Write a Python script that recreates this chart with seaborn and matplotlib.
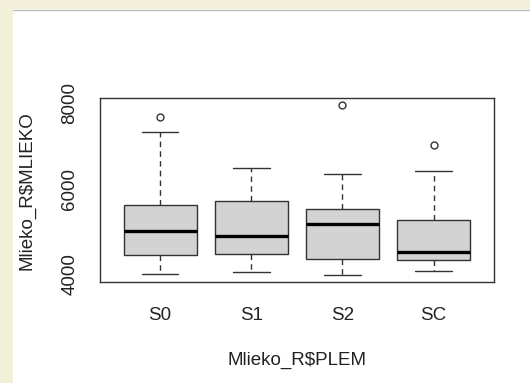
import numpy as np
import pandas as pd
import matplotlib
matplotlib.use("Agg")
import matplotlib.pyplot as plt
from matplotlib.patches import Rectangle
from matplotlib.lines import Line2D
import seaborn as sns

# Summary values (per group)
groups = ["S0", "S1", "S2", "SC"]
lower_whisker = [4000, 4056, 3977, 4086]
q1 = [4451, 4474, 4358, 4326]
median = [5009, 4900, 5163, 4512]
q3 = [5614, 5714, 5521, 5265]
upper_whisker = [7319, 6475, 6349, 6419]
outliers = [[7661], [], [7940], [7023]]

y_ticks = [4000, 5000, 6000, 7000, 8000]
y_tick_labels = ["4000", "", "6000", "", "8000"]
x_label = "Mlieko_R$PLEM"
y_label = "Mlieko_R$MLIEKO"

# Build observations reproducing the summary statistics
rows = []
for i, g in enumerate(groups):
    vals = [lower_whisker[i], q1[i], q1[i], median[i], median[i],
            q3[i], q3[i], upper_whisker[i]] + outliers[i]
    for v in vals:
        rows.append({"PLEM": g, "MLIEKO": v})
df = pd.DataFrame(rows)

sns.set_style("white")
plt.rcParams["font.family"] = ["Liberation Sans", "DejaVu Sans"]

W, H = 530, 383
fig = plt.figure(figsize=(W / 100, H / 100), dpi=100)
fig.patch.set_facecolor("white")

# page background strips
beige = "#F2F0D8"
fig.patches.append(Rectangle((0, 0), 13 / W, 1, transform=fig.transFigure,
                             facecolor=beige, edgecolor="none", zorder=-10))
fig.patches.append(Rectangle((0, 1 - 9 / H), 1, 9 / H, transform=fig.transFigure,
                             facecolor=beige, edgecolor="none", zorder=-10))
fig.lines.append(Line2D([13 / W, 1], [1 - 9.5 / H, 1 - 9.5 / H],
                        transform=fig.transFigure, color="#BDBDBD", lw=1))

left, right = 100 / W, 493.7 / W
bottom, top = 1 - 282.3 / H, 1 - 98.3 / H
ax = fig.add_axes([left, bottom, right - left, top - bottom])

edge = "#333333"
sns.boxplot(
    data=df, x="PLEM", y="MLIEKO", order=groups, ax=ax,
    color="#D3D3D3", width=0.8, linewidth=1.0, linecolor=edge, whis=1.5,
    saturation=1,
    medianprops={"color": "black", "linewidth": 2.4},
    whiskerprops={"color": edge, "linestyle": (0, (4, 3)), "linewidth": 1.0},
    capprops={"color": edge, "linewidth": 1.0},
    flierprops={"marker": "o", "markerfacecolor": "none",
                "markeredgecolor": edge, "markersize": 5, "markeredgewidth": 1.0},
)

fs = 13.5
ax.set_xlim(-0.66, 3.66)
ax.set_ylim(3818, 8099)
ax.set_yticks(y_ticks)
ax.set_yticklabels(y_tick_labels, rotation=90, va="center")
ax.set_xlabel(x_label, fontsize=fs, color="#222222", labelpad=20)
ax.set_ylabel(y_label, fontsize=fs, color="#222222", labelpad=19)

for s in ax.spines.values():
    s.set_visible(True)
    s.set_color(edge)
    s.set_linewidth(1.0)
ax.tick_params(axis="both", direction="out", length=7.5, width=1.0,
               color=edge, labelsize=fs, labelcolor="#222222")
ax.tick_params(axis="x", pad=10)
ax.tick_params(axis="y", pad=8)
ax.set_facecolor("white")

fig.savefig("out.png", dpi=100, facecolor=fig.get_facecolor())
